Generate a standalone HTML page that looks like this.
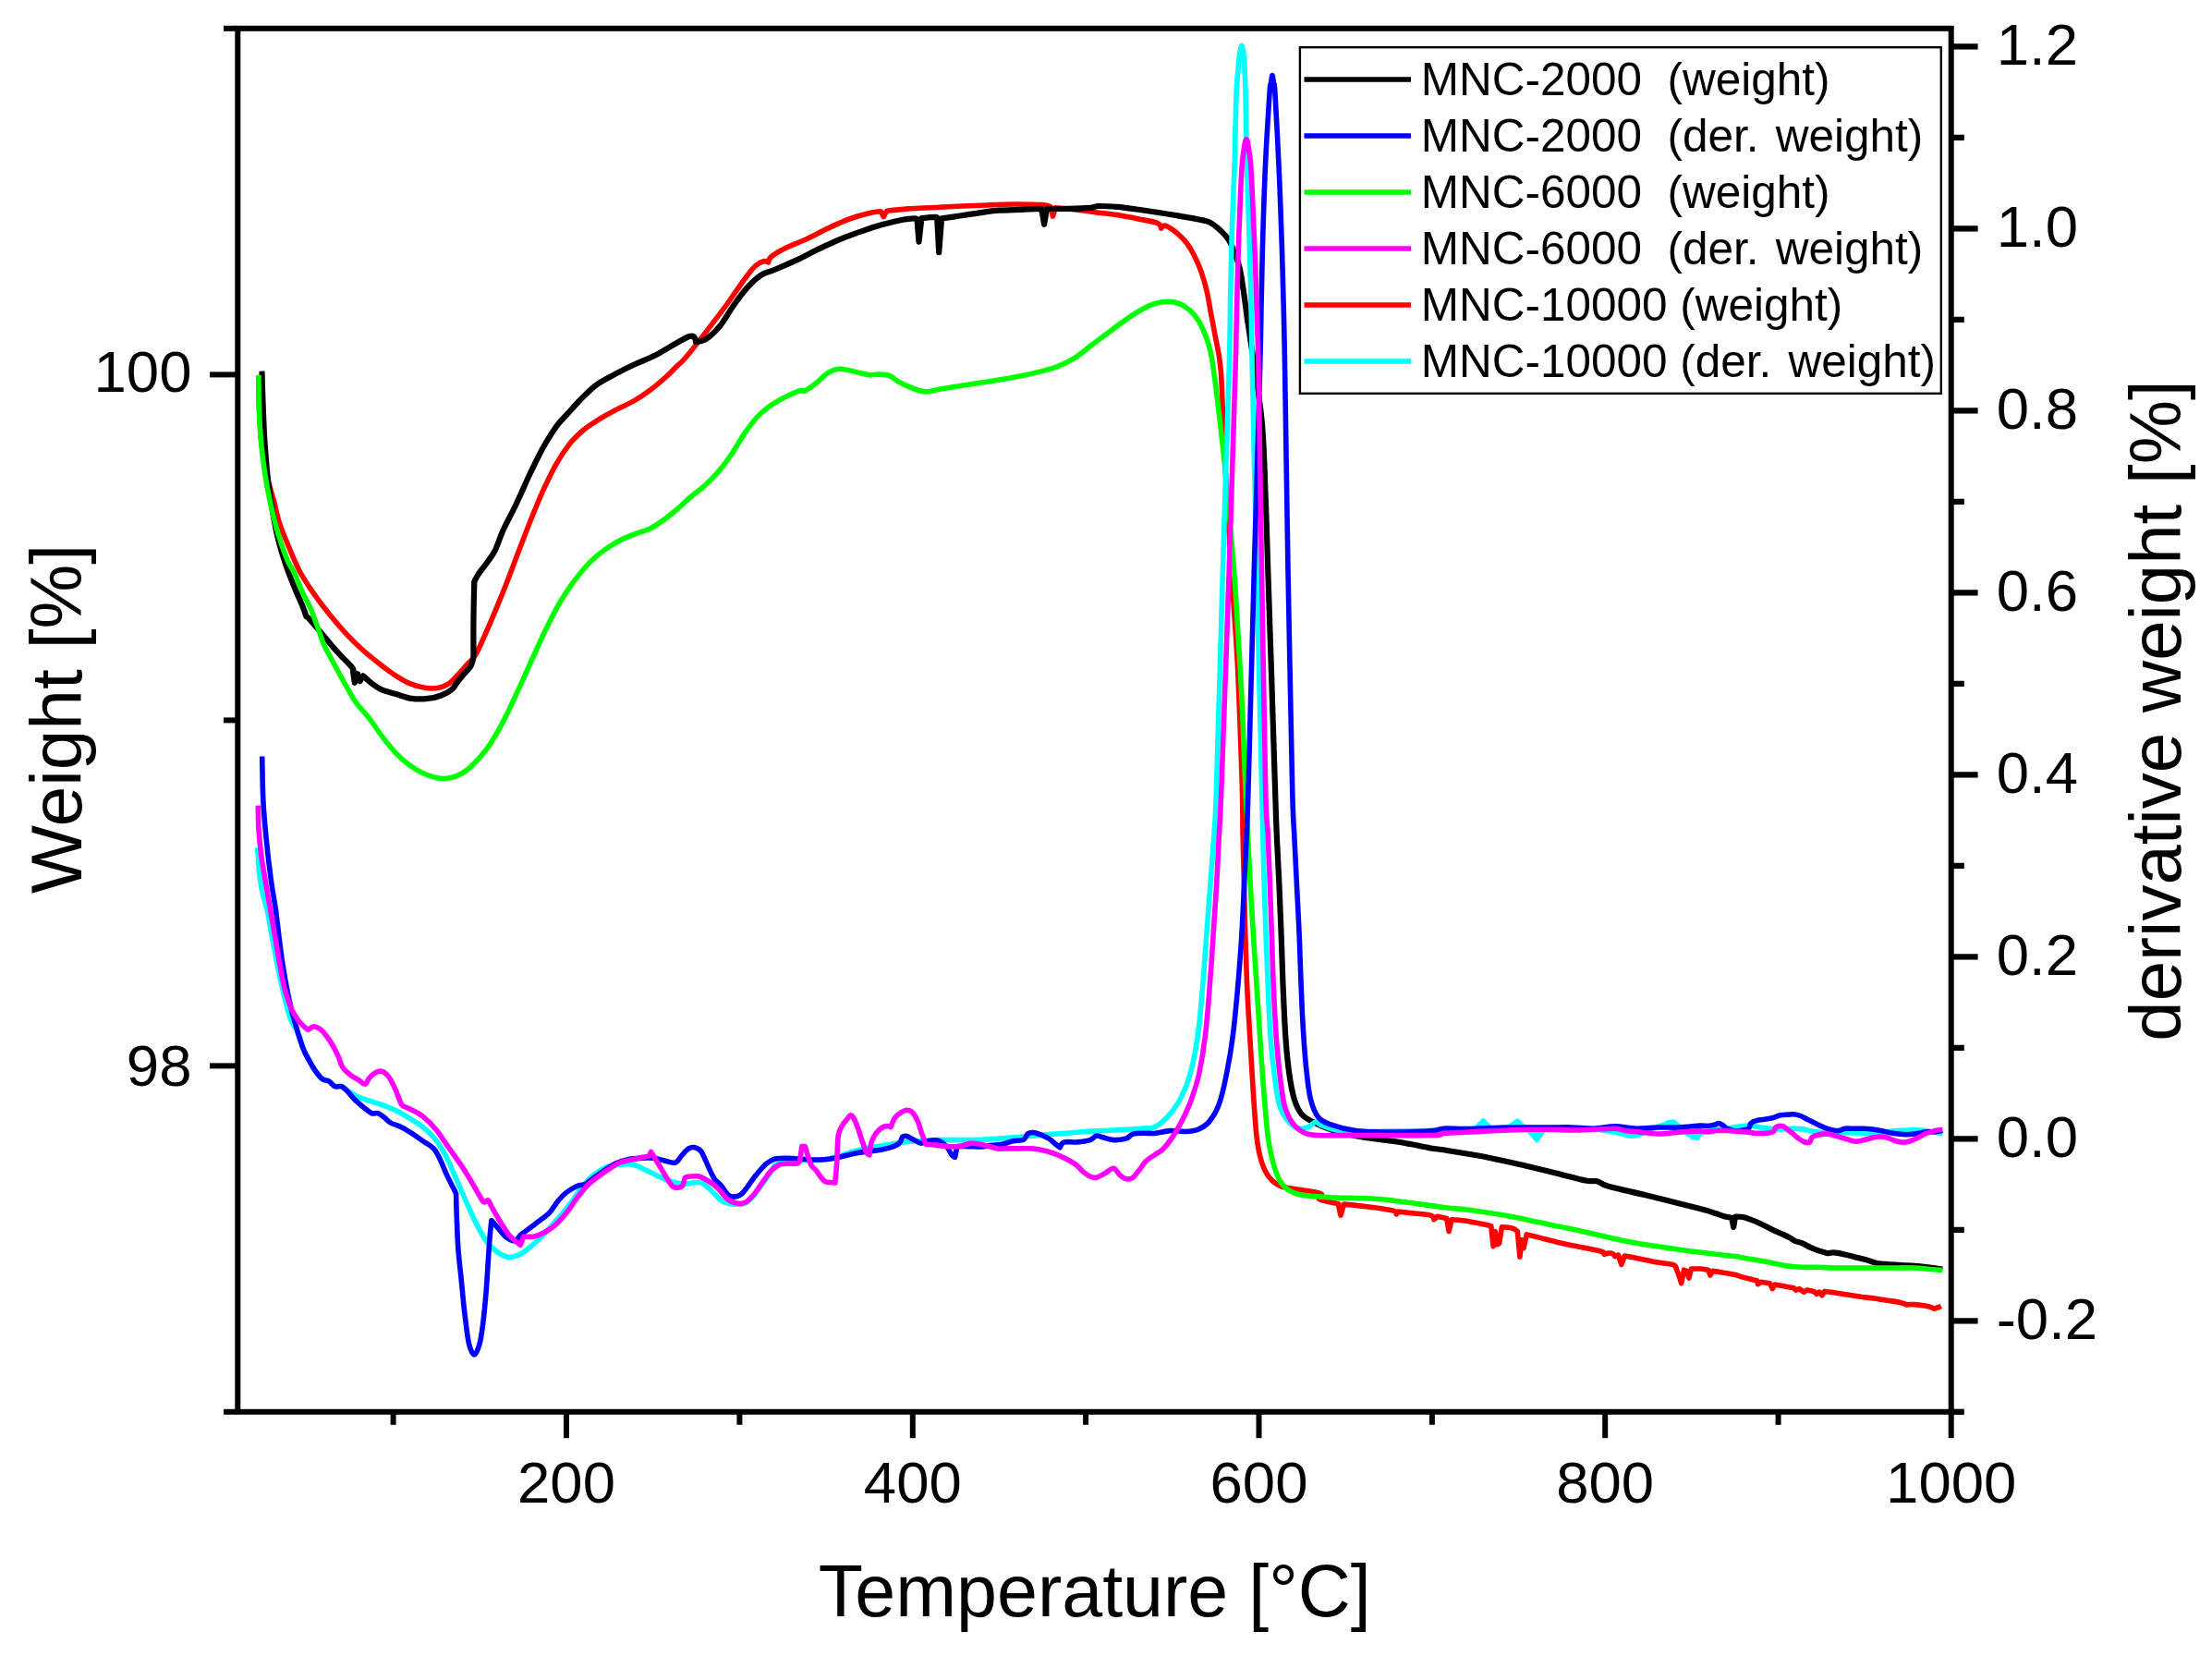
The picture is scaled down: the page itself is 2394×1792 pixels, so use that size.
<!DOCTYPE html>
<html><head><meta charset="utf-8"><title>TGA</title>
<style>html,body{margin:0;padding:0;background:#fff;}svg{display:block;}text{font-family:"Liberation Sans",Arial,sans-serif;fill:#000;white-space:pre;}</style></head><body>
<svg width="2394" height="1792" viewBox="0 0 2394 1792">
<rect width="2394" height="1792" fill="#fff"/>
<g fill="none" stroke-width="5.6" stroke-linejoin="round" stroke-linecap="butt">
<path stroke="#ff0000" d="M280.0 406.7C280.0 411.9 279.9 426.5 280.3 438.0C280.7 449.5 281.4 463.6 282.6 475.7C283.9 487.7 285.5 499.3 287.8 510.4C290.1 521.5 294.1 533.1 296.5 542.3C298.9 551.5 299.7 557.3 302.3 565.5C305.0 573.7 308.8 582.9 312.5 591.6C316.1 600.3 319.7 609.5 324.1 617.7C328.4 625.9 333.2 633.1 338.6 640.9C343.9 648.6 350.1 656.8 355.9 664.1C361.7 671.3 367.5 678.1 373.3 684.3C379.1 690.6 384.9 696.4 390.7 701.7C396.5 707.1 402.3 711.6 408.1 716.2C413.9 720.8 419.7 725.4 425.5 729.3C431.3 733.1 437.1 736.9 442.9 739.4C448.7 741.9 455.0 743.5 460.3 744.3C465.6 745.2 470.4 745.2 474.8 744.3C479.1 743.5 483.0 741.7 486.4 739.4C489.8 737.1 491.7 734.3 495.1 730.7C498.5 727.1 503.3 721.5 506.7 717.7C510.0 713.8 511.5 714.5 515.4 707.5C519.2 700.5 525.0 686.8 529.9 675.7C534.7 664.5 539.5 652.9 544.3 640.9C549.2 628.8 554.0 615.7 558.8 603.2C563.7 590.6 568.5 577.6 573.3 565.5C578.2 553.4 583.0 541.4 587.8 530.7C592.7 520.1 597.5 510.2 602.3 501.7C607.1 493.3 612.0 486.0 616.8 480.0C621.6 474.0 626.5 469.6 631.3 465.5C636.1 461.4 640.0 459.0 645.8 455.4C651.6 451.7 659.3 447.4 666.1 443.8C672.9 440.1 680.1 437.2 686.4 433.6C692.7 430.0 698.0 426.4 703.8 422.0C709.6 417.7 716.3 411.9 721.2 407.5C726.0 403.2 728.9 399.8 732.8 395.9C736.6 392.1 736.5 393.9 744.3 384.3C752.2 374.8 771.6 349.4 780.0 338.4C788.4 327.4 789.7 324.9 794.5 318.1C799.3 311.4 805.1 302.9 809.0 297.8C812.9 292.8 814.8 290.2 817.7 287.7C820.6 285.2 824.1 283.4 826.4 282.8C828.7 282.1 831.6 283.9 831.6 283.9C831.6 283.9 832.1 280.0 835.1 277.5C838.1 275.0 843.3 272.0 849.6 268.8C855.8 265.7 865.0 262.3 872.8 258.7C880.5 255.1 888.2 250.7 895.9 247.1C903.7 243.5 911.4 239.8 919.1 237.0C926.9 234.2 936.6 231.6 942.3 230.3C948.0 228.9 953.3 228.8 953.3 228.8L956.2 234.6L959.7 228.3C959.7 228.3 974.2 226.6 982.9 225.9C991.6 225.3 1002.2 225.0 1011.9 224.5C1021.5 224.0 1031.2 223.5 1040.9 223.0C1050.5 222.6 1060.2 222.2 1069.9 221.9C1079.5 221.5 1089.2 221.1 1098.8 221.0C1108.5 221.0 1121.4 221.1 1127.8 221.6C1134.2 222.1 1137.1 223.9 1137.1 223.9L1139.4 234.1L1142.3 224.8C1142.3 224.8 1155.4 226.0 1162.6 226.8C1169.9 227.6 1178.1 228.7 1185.8 229.7C1193.5 230.7 1201.3 231.4 1209.0 232.6C1216.7 233.8 1224.9 235.5 1232.2 237.0C1239.4 238.4 1248.4 239.6 1252.5 241.3C1256.6 243.0 1256.8 247.1 1256.8 247.1C1256.8 247.1 1258.5 243.5 1261.2 244.2C1263.8 244.9 1268.9 248.3 1272.8 251.4C1276.6 254.6 1281.0 258.7 1284.3 263.0C1287.7 267.4 1290.4 272.2 1293.0 277.5C1295.7 282.9 1298.1 288.6 1300.3 294.9C1302.5 301.2 1304.4 308.0 1306.1 315.2C1307.8 322.5 1309.0 330.7 1310.4 338.4C1311.9 346.1 1313.0 351.3 1314.8 361.6C1316.6 371.9 1319.5 380.0 1321.2 400.0C1322.9 420.0 1323.4 454.3 1324.7 481.5C1326.1 508.7 1327.7 535.9 1329.3 563.0C1331.0 590.2 1332.8 617.4 1334.5 644.6C1336.2 671.7 1338.0 691.8 1339.7 726.1C1341.3 760.3 1343.4 820.3 1344.3 850.0C1345.2 879.7 1344.7 886.2 1345.1 904.3C1345.5 922.5 1346.0 940.6 1346.5 958.7C1346.9 976.8 1347.3 994.9 1347.8 1013.0C1348.4 1031.2 1348.9 1049.3 1349.7 1067.4C1350.5 1085.5 1351.7 1103.6 1352.7 1121.7C1353.8 1139.9 1354.8 1158.0 1356.0 1176.1C1357.2 1194.2 1358.5 1216.8 1360.1 1230.4C1361.6 1244.0 1363.2 1250.4 1365.5 1257.6C1367.8 1264.9 1370.2 1269.6 1373.6 1273.9C1377.0 1278.2 1381.1 1281.3 1385.9 1283.4C1390.6 1285.6 1394.9 1285.3 1402.2 1286.7C1409.4 1288.0 1425.1 1289.7 1429.3 1291.6C1433.6 1293.4 1425.0 1295.9 1427.8 1297.7C1430.7 1299.5 1443.0 1301.5 1446.4 1302.3C1449.8 1303.2 1448.2 1302.8 1448.2 1302.8L1451.0 1315.1L1454.5 1303.0C1454.5 1303.0 1463.2 1303.9 1469.6 1304.6C1475.9 1305.4 1486.2 1306.5 1492.8 1307.4C1499.3 1308.4 1505.9 1309.4 1509.0 1310.4C1512.1 1311.5 1511.3 1313.9 1511.3 1313.9L1513.6 1311.1C1513.6 1311.1 1521.7 1312.1 1527.5 1312.8C1533.3 1313.4 1544.3 1313.9 1548.4 1315.1C1552.5 1316.2 1551.9 1319.7 1551.9 1319.7L1555.4 1316.2L1565.8 1318.6L1568.1 1332.5L1571.1 1319.7C1571.1 1319.7 1579.2 1319.9 1585.5 1320.9C1591.8 1321.8 1604.0 1324.5 1608.7 1325.5C1613.4 1326.5 1613.8 1326.7 1613.8 1326.7L1616.1 1348.7L1618.2 1332.5L1620.3 1346.8L1622.6 1345.4L1625.4 1327.8C1625.4 1327.8 1633.7 1328.2 1636.5 1329.0C1639.3 1329.8 1642.3 1332.5 1642.3 1332.5L1644.9 1360.3L1646.7 1341.7L1649.0 1350.6L1652.3 1335.9C1652.3 1335.9 1660.4 1337.9 1666.7 1339.4C1672.9 1341.0 1682.1 1343.5 1689.9 1345.2C1697.6 1347.0 1705.7 1348.3 1713.0 1349.9C1720.4 1351.4 1730.0 1353.3 1733.9 1354.5C1737.8 1355.7 1736.2 1357.3 1736.2 1357.3C1736.2 1357.3 1739.3 1356.2 1740.9 1356.1C1742.4 1356.0 1744.3 1356.2 1745.5 1356.8C1746.7 1357.4 1747.8 1359.6 1747.8 1359.6L1751.3 1358.0L1754.8 1368.4L1758.3 1359.1C1758.3 1359.1 1765.0 1360.3 1771.0 1361.4C1777.0 1362.6 1787.6 1364.9 1794.2 1366.1C1800.8 1367.2 1807.1 1367.4 1810.4 1368.4C1813.7 1369.4 1813.9 1371.9 1813.9 1371.9L1817.4 1381.2L1819.7 1388.6L1822.5 1374.2L1825.3 1375.4L1827.8 1383.0L1830.4 1373.0C1830.4 1373.0 1837.5 1372.9 1840.6 1373.0C1843.6 1373.2 1848.7 1374.2 1848.7 1374.2L1851.0 1380.0L1853.3 1375.4C1853.3 1375.4 1859.3 1376.2 1863.8 1377.0C1868.2 1377.8 1876.7 1379.3 1880.0 1380.0C1883.3 1380.7 1880.5 1380.6 1883.5 1381.4C1886.5 1382.3 1895.0 1384.3 1898.0 1385.1C1901.0 1385.8 1901.6 1385.8 1901.6 1385.8L1902.6 1389.7L1905.9 1387.2L1915.4 1388.7L1918.3 1394.5L1920.9 1390.1C1920.9 1390.1 1929.3 1391.7 1932.8 1392.3C1936.2 1392.9 1941.4 1393.8 1941.4 1393.8L1943.6 1396.2L1947.2 1394.5L1952.3 1398.1L1955.9 1395.9L1963.2 1397.4L1966.1 1400.3L1969.0 1398.1L1971.9 1401.7L1974.8 1397.4C1974.8 1397.4 1980.8 1398.2 1984.9 1398.8C1989.0 1399.4 1994.6 1400.3 1999.4 1401.0C2004.3 1401.7 2009.1 1402.5 2013.9 1403.2C2018.7 1403.9 2023.6 1404.4 2028.4 1405.1C2033.2 1405.7 2038.1 1406.5 2042.9 1407.2C2047.7 1408.0 2054.0 1408.9 2057.4 1409.7C2060.8 1410.5 2063.2 1411.9 2063.2 1411.9C2063.2 1411.9 2068.0 1411.3 2071.9 1411.6C2075.7 1411.9 2082.8 1412.9 2086.4 1413.6C2090.0 1414.4 2093.6 1416.2 2093.6 1416.2C2093.6 1416.2 2099.7 1414.1 2100.9 1413.6"/>
<path stroke="#000000" stroke-width="6.2" d="M283.5 401.7C283.6 405.4 283.7 412.6 284.1 423.5C284.4 434.3 285.2 454.9 285.8 467.0C286.4 479.0 287.0 486.3 287.8 495.9C288.6 505.6 289.5 515.3 290.7 524.9C291.9 534.6 293.4 544.3 295.1 553.9C296.8 563.6 298.5 573.2 300.9 582.9C303.3 592.6 306.4 602.7 309.6 611.9C312.7 621.1 316.6 630.2 319.7 638.0C322.9 645.7 326.5 653.4 328.4 658.3C330.3 663.1 331.3 667.0 331.3 667.0C331.3 667.0 331.7 666.5 334.8 669.9C337.8 673.2 344.6 681.4 349.6 687.2C354.5 693.0 359.1 698.8 364.3 704.6C369.6 710.4 377.9 718.4 380.9 722.0C383.8 725.7 382.0 726.4 382.0 726.4L383.8 738.8L387.2 729.3L389.6 737.1L393.0 731.3C393.0 731.3 398.8 736.9 402.3 739.4C405.8 742.0 409.6 744.7 413.9 746.7C418.3 748.6 423.1 749.5 428.4 751.0C433.7 752.6 440.0 755.1 445.8 755.9C451.6 756.8 457.9 756.5 463.2 755.9C468.5 755.4 473.3 754.2 477.7 752.5C482.0 750.8 486.4 748.2 489.3 745.8C492.2 743.4 493.1 740.5 495.1 738.0C497.0 735.5 498.5 733.6 500.9 730.7C503.3 727.8 507.6 724.0 509.6 720.6C511.5 717.2 512.5 710.4 512.5 710.4C512.5 710.4 512.3 683.4 512.5 669.9C512.6 656.3 513.3 629.3 513.3 629.3C513.3 629.3 516.0 624.0 518.3 620.6C520.5 617.2 524.1 613.1 527.0 609.0C529.9 604.9 532.8 601.7 535.7 595.9C538.6 590.1 540.5 582.7 544.3 574.2C548.2 565.7 554.0 555.4 558.8 545.2C563.7 535.1 568.5 523.5 573.3 513.3C578.2 503.2 583.0 493.0 587.8 484.3C592.7 475.7 598.0 467.2 602.3 461.2C606.7 455.1 609.6 452.9 613.9 448.1C618.3 443.3 623.1 437.5 628.4 432.2C633.7 426.9 639.5 420.8 645.8 416.2C652.1 411.6 659.3 408.3 666.1 404.6C672.9 401.0 679.1 397.9 686.4 394.5C693.6 391.1 699.6 389.4 709.6 384.3C719.5 379.3 738.8 366.4 746.0 364.0C753.2 361.6 753.0 370.0 753.0 370.0C753.0 370.0 759.7 369.8 764.0 367.0C768.3 364.2 773.9 359.2 779.0 353.0C784.1 346.8 789.5 336.7 794.5 329.7C799.5 322.7 804.2 316.2 809.0 310.9C813.8 305.6 818.6 301.0 823.5 297.8C828.3 294.7 831.7 294.7 838.0 292.0C844.3 289.4 853.4 285.5 861.2 281.9C868.9 278.3 876.6 274.0 884.3 270.3C892.1 266.6 899.8 262.8 907.5 259.6C915.3 256.3 923.0 253.6 930.7 250.9C938.5 248.2 946.2 245.5 953.9 243.3C961.6 241.2 971.3 239.0 977.1 237.8C982.9 236.7 986.1 236.5 988.7 236.4C991.3 236.2 992.5 237.0 992.5 237.0L994.5 261.6L997.4 236.1C997.4 236.1 1009.1 235.0 1011.9 234.9C1014.7 234.8 1014.2 235.5 1014.2 235.5L1016.2 273.2L1019.1 236.4C1019.1 236.4 1028.6 235.0 1035.1 234.1C1041.6 233.1 1050.5 231.6 1058.3 230.6C1066.0 229.5 1073.7 228.3 1081.4 227.7C1089.2 227.1 1097.0 227.1 1104.6 226.8C1112.3 226.5 1127.2 225.9 1127.2 225.9L1130.1 242.8L1133.0 225.9C1133.0 225.9 1149.0 226.1 1156.8 225.9C1164.6 225.7 1174.7 225.3 1180.0 224.8C1185.3 224.3 1183.9 223.2 1188.7 223.0C1193.5 222.9 1201.7 223.3 1209.0 223.9C1216.2 224.5 1224.4 225.7 1232.2 226.8C1239.9 227.9 1247.6 229.1 1255.4 230.3C1263.1 231.5 1270.8 232.7 1278.6 234.1C1286.3 235.4 1296.7 237.3 1301.7 238.4C1306.8 239.5 1306.3 239.1 1309.1 240.5C1311.8 241.9 1315.1 244.3 1318.1 246.8C1321.1 249.4 1324.9 253.2 1327.2 255.9C1329.5 258.6 1330.2 260.1 1331.7 263.1C1333.2 266.2 1334.6 269.5 1336.3 274.0C1337.9 278.5 1340.0 283.1 1341.7 290.3C1343.4 297.6 1344.9 308.4 1346.2 317.5C1347.6 326.6 1348.8 337.1 1349.8 344.7C1350.9 352.3 1350.0 344.5 1352.6 362.8C1355.2 381.1 1362.7 425.5 1365.5 454.3C1368.3 483.2 1368.4 508.7 1369.6 535.9C1370.7 563.0 1371.2 583.4 1372.3 617.4C1373.4 651.4 1375.1 700.9 1376.4 739.7C1377.6 778.4 1379.0 822.6 1379.9 850.0C1380.8 877.4 1381.0 886.2 1381.8 904.3C1382.6 922.5 1383.7 940.6 1384.5 958.7C1385.3 976.8 1386.0 994.9 1386.7 1013.0C1387.4 1031.2 1387.8 1049.3 1388.6 1067.4C1389.4 1085.5 1390.2 1105.9 1391.3 1121.7C1392.4 1137.6 1393.8 1151.2 1395.4 1162.5C1397.0 1173.8 1398.6 1182.4 1400.8 1189.7C1403.1 1196.9 1405.1 1201.7 1409.0 1206.0C1412.8 1210.3 1418.7 1212.8 1423.9 1215.5C1429.1 1218.2 1433.0 1220.0 1440.2 1222.3C1447.5 1224.5 1458.3 1227.3 1467.4 1229.1C1476.4 1230.9 1485.5 1231.8 1494.6 1233.2C1503.6 1234.5 1512.5 1235.6 1521.7 1237.2C1531.0 1238.8 1543.6 1241.5 1550.0 1242.7C1556.4 1243.8 1551.7 1242.7 1560.0 1244.0C1568.3 1245.3 1586.7 1248.0 1600.0 1250.5C1613.3 1253.0 1626.7 1256.0 1640.0 1259.0C1653.3 1262.0 1667.3 1265.4 1680.0 1268.5C1692.7 1271.6 1707.9 1275.9 1716.0 1277.5C1724.1 1279.1 1724.5 1277.3 1728.5 1278.3C1732.5 1279.3 1731.4 1281.0 1740.0 1283.5C1748.6 1286.0 1766.7 1289.8 1780.0 1293.0C1793.3 1296.2 1810.0 1300.5 1820.0 1303.0C1830.0 1305.5 1835.2 1306.8 1840.0 1308.0C1844.8 1309.2 1845.8 1309.5 1848.7 1310.4C1851.6 1311.3 1854.5 1312.4 1857.4 1313.3C1860.3 1314.3 1863.3 1315.5 1866.1 1316.2C1868.9 1317.0 1874.1 1317.7 1874.1 1317.7L1876.2 1327.8L1878.0 1316.5C1878.0 1316.5 1883.5 1316.4 1886.4 1317.0C1889.2 1317.5 1892.2 1318.8 1895.1 1319.9C1898.0 1320.9 1900.9 1322.1 1903.8 1323.5C1906.7 1324.8 1909.6 1326.4 1912.5 1327.8C1915.4 1329.3 1918.3 1330.8 1921.2 1332.2C1924.1 1333.5 1927.2 1334.6 1929.9 1335.8C1932.5 1337.0 1934.9 1338.2 1937.1 1339.4C1939.3 1340.6 1940.7 1342.1 1942.9 1343.0C1945.1 1344.0 1947.5 1344.1 1950.1 1345.2C1952.8 1346.3 1955.9 1348.2 1958.8 1349.6C1961.7 1350.9 1964.9 1352.2 1967.5 1353.2C1970.2 1354.2 1972.9 1354.9 1974.8 1355.4C1976.7 1355.8 1977.4 1356.1 1979.1 1356.1C1980.8 1356.1 1982.0 1355.1 1984.9 1355.4C1987.8 1355.6 1992.7 1356.7 1996.5 1357.5C2000.4 1358.4 2004.3 1359.5 2008.1 1360.4C2012.0 1361.4 2015.8 1362.2 2019.7 1363.3C2023.6 1364.4 2027.4 1366.2 2031.3 1367.0C2035.2 1367.8 2038.6 1367.8 2042.9 1368.1C2047.2 1368.5 2052.6 1368.8 2057.4 1369.1C2062.2 1369.4 2067.1 1369.5 2071.9 1369.9C2076.7 1370.2 2081.3 1370.7 2086.4 1371.3C2091.4 1371.9 2099.7 1373.1 2102.3 1373.5"/>
<path stroke="#00ff00" d="M280.0 406.1C280.0 411.4 279.9 426.4 280.3 438.0C280.7 449.6 281.3 463.6 282.3 475.7C283.3 487.7 284.7 499.3 286.4 510.4C288.0 521.5 289.8 531.2 292.2 542.3C294.6 553.4 297.7 566.5 300.9 577.1C304.0 587.7 308.1 598.9 311.0 606.1C314.0 613.2 315.9 614.3 318.6 620.0C321.2 625.7 324.1 633.8 327.0 640.0C329.8 646.2 332.9 651.1 335.7 657.4C338.4 663.7 341.0 671.3 343.5 678.0C345.9 684.6 347.9 691.5 350.4 697.4C352.9 703.2 354.8 706.0 358.6 713.0C362.3 720.0 368.6 731.6 373.0 739.4C377.4 747.2 380.5 753.4 384.9 759.7C389.3 766.0 394.6 770.8 399.4 777.1C404.3 783.4 409.1 791.1 413.9 797.4C418.7 803.7 423.6 809.7 428.4 814.8C433.2 819.9 438.1 824.2 442.9 827.8C447.7 831.4 452.6 834.3 457.4 836.5C462.2 838.8 467.5 840.5 471.9 841.4C476.2 842.4 479.6 842.7 483.5 842.3C487.3 842.0 491.2 841.1 495.1 839.4C498.9 837.7 502.8 835.3 506.7 832.2C510.5 829.0 514.4 824.9 518.3 820.6C522.1 816.2 525.5 812.6 529.9 806.1C534.2 799.6 539.5 790.6 544.3 781.4C549.2 772.3 554.0 761.4 558.8 751.0C563.7 740.6 568.5 729.8 573.3 719.1C578.2 708.5 583.0 697.4 587.8 687.2C592.7 677.1 597.5 667.0 602.3 658.3C607.1 649.6 612.0 642.1 616.8 635.1C621.6 628.1 626.5 621.8 631.3 616.2C636.1 610.7 641.0 605.9 645.8 601.7C650.6 597.5 655.5 594.2 660.3 591.0C665.1 587.9 670.0 585.2 674.8 582.9C679.6 580.6 684.4 578.9 689.3 577.1C694.1 575.3 698.9 574.3 703.8 571.9C708.6 569.5 713.4 566.1 718.3 562.6C723.1 559.1 727.9 555.1 732.8 551.0C737.6 546.9 742.4 542.1 747.2 538.0C752.1 533.9 756.9 530.7 761.7 526.4C766.6 522.0 771.4 517.4 776.2 511.9C781.1 506.3 785.9 500.0 790.7 493.0C795.6 486.0 800.4 476.9 805.2 469.9C810.0 462.9 815.4 455.8 819.7 451.0C824.1 446.2 827.9 443.5 831.3 440.9C834.7 438.2 836.5 437.2 840.0 435.1C843.5 433.0 848.0 430.4 852.5 428.3C857.0 426.2 863.8 423.3 867.0 422.5C870.1 421.6 868.4 424.5 871.3 423.0C874.2 421.6 880.2 417.0 884.3 413.8C888.5 410.5 892.1 406.0 895.9 403.6C899.8 401.2 903.7 399.8 907.5 399.3C911.4 398.8 915.3 400.0 919.1 400.7C923.0 401.4 927.1 402.8 930.7 403.6C934.3 404.4 937.5 405.4 940.9 405.7C944.3 405.9 947.4 404.9 951.0 405.1C954.6 405.2 959.2 405.3 962.6 406.5C966.0 407.7 967.9 410.4 971.3 412.3C974.7 414.3 979.0 416.4 982.9 418.1C986.8 419.8 991.1 421.5 994.5 422.5C997.9 423.4 999.3 424.2 1003.2 423.9C1007.1 423.7 1011.4 422.1 1017.7 421.0C1024.0 419.9 1032.2 418.6 1040.9 417.2C1049.6 415.9 1060.2 414.4 1069.9 412.9C1079.5 411.4 1089.2 409.9 1098.8 408.0C1108.5 406.1 1120.1 403.5 1127.8 401.6C1135.6 399.7 1139.4 398.7 1145.2 396.4C1151.0 394.1 1156.8 391.3 1162.6 387.7C1168.4 384.1 1174.2 379.0 1180.0 374.6C1185.8 370.3 1191.6 365.9 1197.4 361.6C1203.2 357.2 1209.0 352.7 1214.8 348.6C1220.6 344.4 1226.9 340.1 1232.2 337.0C1237.5 333.8 1242.3 331.4 1246.7 329.7C1251.0 328.0 1254.4 327.3 1258.3 326.8C1262.1 326.3 1266.0 326.1 1269.9 326.8C1273.7 327.5 1277.6 328.7 1281.4 331.2C1285.3 333.6 1289.7 337.2 1293.0 341.3C1296.4 345.4 1299.1 350.0 1301.7 355.8C1304.4 361.6 1307.1 368.8 1309.0 376.1C1310.9 383.3 1311.5 386.2 1313.3 399.3C1315.2 412.3 1318.0 436.1 1320.1 454.3C1322.2 472.6 1324.3 490.6 1326.1 508.7C1327.9 526.8 1329.4 544.9 1331.0 563.0C1332.6 581.2 1334.2 599.3 1335.6 617.4C1337.0 635.5 1338.0 653.6 1339.1 671.7C1340.3 689.9 1341.4 708.0 1342.4 726.1C1343.4 744.2 1344.2 759.8 1345.1 780.4C1346.0 801.1 1346.9 829.3 1347.8 850.0C1348.7 870.7 1349.6 886.2 1350.5 904.3C1351.4 922.5 1352.3 940.6 1353.3 958.7C1354.3 976.8 1355.4 994.9 1356.5 1013.0C1357.7 1031.2 1358.9 1049.3 1360.1 1067.4C1361.2 1085.5 1362.4 1103.6 1363.6 1121.7C1364.8 1139.9 1365.9 1158.0 1367.4 1176.1C1368.8 1194.2 1370.6 1216.8 1372.3 1230.4C1374.0 1244.0 1375.7 1249.9 1377.7 1257.6C1379.8 1265.3 1381.8 1271.6 1384.5 1276.6C1387.2 1281.6 1390.2 1284.8 1394.0 1287.5C1397.9 1290.2 1399.9 1291.6 1407.6 1292.9C1415.3 1294.3 1425.7 1294.8 1440.2 1295.7C1454.7 1296.5 1474.2 1296.0 1494.6 1297.8C1514.9 1299.6 1547.2 1304.7 1562.3 1306.5C1577.5 1308.3 1577.8 1307.9 1585.5 1308.8C1593.2 1309.7 1601.0 1310.9 1608.7 1312.1C1616.4 1313.2 1624.2 1314.4 1631.9 1315.8C1639.6 1317.2 1647.3 1318.8 1655.1 1320.4C1662.8 1322.0 1670.5 1323.9 1678.3 1325.5C1686.0 1327.1 1693.7 1328.5 1701.4 1330.1C1709.2 1331.8 1716.9 1333.5 1724.6 1335.2C1732.4 1337.0 1740.1 1338.9 1747.8 1340.6C1755.6 1342.2 1763.3 1343.9 1771.0 1345.2C1778.7 1346.6 1786.5 1347.5 1794.2 1348.7C1801.9 1349.9 1809.7 1351.1 1817.4 1352.2C1825.1 1353.3 1832.9 1354.2 1840.6 1355.2C1848.3 1356.2 1857.2 1357.2 1863.8 1358.0C1870.3 1358.7 1876.7 1359.2 1880.0 1359.6C1883.3 1360.0 1880.5 1359.9 1883.5 1360.4C1886.5 1361.0 1893.1 1362.1 1898.0 1362.9C1902.8 1363.7 1908.1 1364.6 1912.5 1365.5C1916.8 1366.4 1920.2 1367.3 1924.1 1368.1C1927.9 1368.9 1931.3 1369.6 1935.7 1370.1C1940.0 1370.7 1944.8 1371.1 1950.1 1371.3C1955.5 1371.5 1961.7 1371.2 1967.5 1371.3C1973.3 1371.4 1977.2 1371.9 1984.9 1372.0C1992.7 1372.1 2004.3 1372.0 2013.9 1372.0C2023.6 1372.0 2033.2 1372.0 2042.9 1372.0C2052.6 1372.0 2064.2 1371.8 2071.9 1372.0C2079.6 1372.3 2084.2 1373.1 2089.3 1373.5C2094.3 1373.9 2100.1 1374.3 2102.3 1374.5"/>
<path stroke="#00ffff" fill="#00ffff" stroke-width="4" d="M1595.9 1221.2 L1605.2 1211.9 L1614.5 1221.2 Z"/>
<path stroke="#00ffff" fill="#00ffff" stroke-width="4" d="M1629.6 1221.2 L1642.3 1212.3 L1651.6 1221.2 Z"/>
<path stroke="#00ffff" fill="#00ffff" stroke-width="4" d="M1653.9 1223.5 L1663.2 1234.4 L1671.3 1223.5 Z"/>
<path stroke="#00ffff" fill="#00ffff" stroke-width="4" d="M1797.7 1220.0 L1804.6 1214.2 L1811.6 1213.3 L1818.6 1220.0 Z"/>
<path stroke="#00ffff" fill="#00ffff" stroke-width="4" d="M1825.5 1224.6 L1831.3 1231.1 L1837.1 1232.1 L1841.7 1224.6 Z"/>
<path stroke="#00ffff" d="M278.7 917.4C279.0 921.7 279.6 935.5 280.4 943.5C281.3 951.4 282.4 958.0 283.9 965.2C285.4 972.5 287.7 978.3 289.6 987.0C291.4 995.7 293.0 1006.9 295.0 1017.4C297.0 1027.9 299.2 1039.9 301.3 1050.0C303.4 1060.1 305.4 1069.6 307.6 1078.3C309.8 1087.0 311.6 1095.1 314.3 1102.2C317.1 1109.2 321.7 1115.4 323.9 1120.7C326.2 1125.9 326.0 1129.4 327.8 1133.9C329.6 1138.4 332.5 1143.6 334.8 1147.8C337.1 1152.1 339.4 1156.1 341.7 1159.4C344.1 1162.7 346.4 1165.8 348.7 1167.5C351.0 1169.3 353.3 1168.6 355.7 1169.9C358.0 1171.1 360.3 1174.2 362.6 1175.2C364.9 1176.2 367.2 1174.8 369.6 1175.7C371.9 1176.5 373.4 1178.4 376.5 1180.3C379.6 1182.2 383.9 1185.3 388.1 1187.2C392.4 1189.2 397.4 1190.3 402.0 1191.9C406.7 1193.4 411.3 1194.8 415.9 1196.5C420.6 1198.3 425.2 1200.0 429.9 1202.3C434.5 1204.6 439.1 1207.5 443.8 1210.4C448.4 1213.3 453.0 1215.8 457.7 1219.7C462.3 1223.6 467.3 1228.2 471.6 1233.6C475.8 1239.0 479.7 1245.6 483.2 1252.2C486.7 1258.7 489.4 1266.1 492.5 1273.0C495.6 1280.0 498.6 1287.0 501.7 1293.9C504.8 1300.9 507.9 1308.2 511.0 1314.8C514.1 1321.4 517.2 1327.9 520.3 1333.3C523.4 1338.7 526.5 1343.6 529.6 1347.2C532.7 1350.9 535.7 1353.2 538.8 1355.4C541.9 1357.5 545.4 1359.2 548.1 1360.0C550.8 1360.8 552.4 1360.6 555.1 1360.0C557.8 1359.4 561.3 1358.3 564.3 1356.5C567.4 1354.8 570.1 1352.5 573.6 1349.6C577.1 1346.7 581.4 1343.0 585.2 1339.1C589.1 1335.3 592.9 1330.6 596.8 1326.4C600.7 1322.1 604.5 1318.3 608.4 1313.6C612.3 1309.0 616.1 1303.8 620.0 1298.6C623.9 1293.3 627.7 1287.0 631.6 1282.3C635.5 1277.7 638.9 1274.0 643.2 1270.7C647.4 1267.4 652.5 1264.3 657.1 1262.6C661.7 1260.9 666.4 1260.7 671.0 1260.3C675.7 1259.9 680.3 1259.3 684.9 1260.3C689.6 1261.3 694.2 1264.0 698.8 1266.1C703.5 1268.2 708.1 1270.9 712.8 1273.0C717.4 1275.2 722.0 1277.5 726.7 1278.8C731.3 1280.2 736.7 1281.0 740.6 1281.2C744.4 1281.4 746.8 1280.2 749.9 1280.0C752.9 1279.8 756.0 1278.8 759.1 1280.0C762.2 1281.2 764.9 1283.9 768.4 1287.0C771.9 1290.0 776.8 1296.0 780.0 1298.6C783.2 1301.1 785.0 1301.3 787.8 1302.0C790.7 1302.8 794.0 1303.2 797.1 1303.2C800.2 1303.2 803.3 1303.6 806.4 1302.0C809.5 1300.5 812.6 1297.4 815.7 1293.9C818.7 1290.4 821.8 1285.4 824.9 1281.2C828.0 1276.9 831.9 1271.7 834.2 1268.4C836.5 1265.1 836.5 1263.4 838.8 1261.4C841.2 1259.5 844.3 1257.8 848.1 1256.8C852.0 1255.8 856.6 1255.8 862.0 1255.7C867.4 1255.5 875.2 1255.8 880.6 1255.7C886.0 1255.5 889.9 1255.3 894.5 1254.5C899.1 1253.7 903.8 1252.4 908.4 1251.0C913.0 1249.7 917.7 1247.7 922.3 1246.4C927.0 1245.0 931.6 1243.9 936.2 1242.9C940.9 1241.9 945.5 1241.4 950.1 1240.6C954.8 1239.8 959.4 1239.0 964.1 1238.3C968.7 1237.5 973.3 1236.5 978.0 1235.9C982.6 1235.4 985.7 1235.2 991.9 1234.8C998.1 1234.4 1007.3 1233.8 1015.1 1233.6C1022.8 1233.4 1030.5 1233.7 1038.3 1233.6C1046.0 1233.5 1053.7 1233.5 1061.4 1233.2C1069.2 1232.9 1076.9 1232.3 1084.6 1231.8C1092.4 1231.3 1100.1 1230.8 1107.8 1230.1C1115.6 1229.5 1123.3 1228.5 1131.0 1227.8C1138.7 1227.2 1146.5 1226.8 1154.2 1226.2C1161.9 1225.6 1169.7 1224.9 1177.4 1224.3C1185.1 1223.8 1192.9 1223.6 1200.6 1223.2C1208.3 1222.8 1217.2 1222.4 1223.8 1222.0C1230.3 1221.6 1235.6 1221.3 1240.0 1220.9C1244.4 1220.5 1246.1 1221.6 1250.0 1219.6C1253.9 1217.5 1259.1 1213.7 1263.6 1208.7C1268.1 1203.7 1273.1 1197.4 1277.2 1189.7C1281.2 1182.0 1284.9 1173.8 1288.0 1162.5C1291.2 1151.2 1293.9 1137.6 1296.2 1121.7C1298.5 1105.9 1300.0 1085.5 1301.6 1067.4C1303.2 1049.3 1304.3 1031.2 1305.7 1013.0C1307.1 994.9 1308.4 976.8 1309.8 958.7C1311.1 940.6 1312.7 922.5 1313.9 904.3C1315.0 886.2 1315.0 897.8 1316.6 850.0C1318.2 802.2 1321.1 692.4 1323.4 617.4C1325.6 542.4 1328.8 450.0 1330.2 400.0C1331.6 350.0 1331.2 343.3 1331.7 317.5C1332.3 291.7 1332.8 269.2 1333.5 245.0C1334.3 220.8 1335.5 196.7 1336.3 172.5C1337.0 148.3 1337.3 117.8 1338.1 100.0C1338.8 82.2 1340.2 73.3 1340.9 66.0C1341.6 58.7 1341.5 58.8 1342.0 56.0C1342.5 53.2 1343.2 49.5 1343.8 49.5C1344.3 49.5 1345.0 53.2 1345.5 56.0C1346.0 58.8 1346.2 58.7 1346.6 66.0C1347.0 73.3 1347.6 82.2 1348.0 100.0C1348.5 117.8 1348.7 148.3 1349.3 172.5C1349.9 196.7 1350.9 220.8 1351.7 245.0C1352.4 269.2 1353.2 291.7 1353.8 317.5C1354.4 343.4 1354.2 350.2 1355.3 400.2C1356.3 450.1 1358.4 542.4 1360.1 617.4C1361.8 692.4 1364.4 802.2 1365.5 850.0C1366.6 897.8 1366.4 886.2 1366.8 904.3C1367.3 922.5 1367.7 940.6 1368.2 958.7C1368.8 976.8 1369.4 994.9 1370.1 1013.0C1370.8 1031.2 1371.5 1049.3 1372.3 1067.4C1373.1 1085.5 1373.9 1105.9 1375.0 1121.7C1376.1 1137.6 1377.5 1150.3 1379.1 1162.5C1380.7 1174.7 1382.2 1187.0 1384.5 1195.1C1386.8 1203.3 1389.3 1207.1 1392.7 1211.4C1396.1 1215.7 1401.0 1219.6 1404.9 1220.9C1408.7 1222.3 1412.6 1220.7 1415.8 1219.6C1418.9 1218.4 1421.5 1214.4 1423.9 1214.1C1426.3 1213.8 1426.4 1216.2 1430.1 1217.7C1433.9 1219.2 1439.8 1221.9 1446.4 1223.0C1452.9 1224.2 1458.0 1224.5 1469.6 1224.6C1481.2 1224.8 1500.5 1224.2 1515.9 1223.9C1531.4 1223.7 1550.7 1223.4 1562.3 1223.0C1573.9 1222.6 1577.8 1221.9 1585.5 1221.6C1593.2 1221.3 1601.0 1221.2 1608.7 1221.2C1616.4 1221.1 1624.2 1221.0 1631.9 1221.2C1639.6 1221.4 1647.3 1222.2 1655.1 1222.3C1662.8 1222.4 1670.5 1221.8 1678.3 1221.6C1686.0 1221.4 1693.7 1221.2 1701.4 1221.2C1709.2 1221.2 1716.9 1220.9 1724.6 1221.6C1732.4 1222.3 1740.9 1224.1 1747.8 1225.3C1754.8 1226.6 1761.7 1229.0 1766.4 1229.3C1771.0 1229.5 1771.8 1228.3 1775.7 1227.0C1779.5 1225.6 1785.7 1222.7 1789.6 1221.2C1793.4 1219.6 1795.4 1218.5 1798.8 1217.7C1802.3 1216.9 1807.3 1216.3 1810.4 1216.5C1813.5 1216.7 1814.7 1217.1 1817.4 1218.8C1820.1 1220.6 1823.6 1225.4 1826.7 1227.0C1829.8 1228.5 1832.3 1228.7 1835.9 1228.1C1839.6 1227.5 1845.6 1224.4 1848.7 1223.5C1851.8 1222.6 1851.1 1223.1 1854.5 1222.8C1857.9 1222.4 1864.2 1222.0 1869.0 1221.3C1873.8 1220.7 1879.4 1219.4 1883.5 1218.8C1887.6 1218.3 1890.0 1217.8 1893.6 1218.0C1897.2 1218.1 1900.6 1219.2 1905.2 1219.9C1909.8 1220.5 1915.6 1221.8 1921.2 1222.0C1926.7 1222.3 1933.7 1221.4 1938.6 1221.3C1943.4 1221.2 1946.3 1221.1 1950.1 1221.6C1954.0 1222.1 1957.1 1223.5 1961.7 1224.2C1966.3 1224.9 1971.4 1225.4 1977.7 1225.7C1984.0 1225.9 1991.0 1225.6 1999.4 1225.7C2007.9 1225.7 2020.7 1226.3 2028.4 1226.1C2036.1 1225.8 2041.0 1224.7 2045.8 1224.2C2050.6 1223.7 2051.8 1223.4 2057.4 1223.2C2062.9 1223.0 2073.1 1222.8 2079.1 1223.0C2085.2 1223.3 2089.8 1224.3 2093.6 1224.9C2097.5 1225.6 2100.9 1226.7 2102.3 1227.1"/>
<path stroke="#0000ff" d="M283.7 818.5C283.9 826.3 284.0 850.2 284.8 865.2C285.5 880.3 286.8 894.2 288.3 908.7C289.7 923.2 291.6 939.5 293.3 952.2C295.0 964.9 297.0 973.9 298.5 984.8C300.0 995.7 301.1 1007.2 302.4 1017.4C303.7 1027.5 304.8 1036.2 306.3 1045.7C307.8 1055.1 309.5 1064.9 311.3 1073.9C313.2 1083.0 314.6 1090.0 317.4 1100.0C320.1 1110.0 324.9 1125.9 327.8 1133.9C330.7 1141.9 332.5 1143.6 334.8 1147.8C337.1 1152.1 339.4 1156.1 341.7 1159.4C344.1 1162.7 346.4 1165.8 348.7 1167.5C351.0 1169.3 353.3 1168.5 355.7 1169.9C358.0 1171.2 360.3 1174.7 362.6 1175.7C364.9 1176.6 367.2 1174.7 369.6 1175.7C371.9 1176.6 374.2 1179.1 376.5 1181.4C378.8 1183.8 380.8 1186.9 383.5 1189.6C386.2 1192.3 389.7 1195.2 392.8 1197.7C395.8 1200.2 399.3 1203.5 402.0 1204.6C404.7 1205.8 406.7 1203.9 409.0 1204.6C411.3 1205.4 413.6 1207.5 415.9 1209.3C418.3 1211.0 419.8 1213.3 422.9 1215.1C426.0 1216.8 430.6 1217.8 434.5 1219.7C438.4 1221.6 442.2 1224.2 446.1 1226.7C450.0 1229.2 453.8 1232.1 457.7 1234.8C461.5 1237.5 466.2 1239.6 469.3 1242.9C472.4 1246.2 473.9 1249.9 476.2 1254.5C478.6 1259.1 480.9 1265.7 483.2 1270.7C485.5 1275.7 488.4 1281.2 490.1 1284.6C491.9 1288.1 493.6 1291.6 493.6 1291.6C493.6 1291.6 493.9 1307.1 494.3 1317.1C494.7 1327.1 495.1 1340.3 495.9 1351.9C496.8 1363.5 498.3 1375.1 499.4 1386.7C500.6 1398.3 501.5 1410.2 502.9 1421.4C504.3 1432.7 505.8 1446.5 507.5 1453.9C509.3 1461.3 511.4 1466.0 513.3 1466.0C515.3 1466.0 517.6 1459.4 519.1 1453.9C520.7 1448.4 521.4 1442.3 522.6 1433.0C523.8 1423.8 525.1 1409.9 526.1 1398.3C527.1 1386.7 527.7 1373.1 528.4 1363.5C529.1 1353.8 529.4 1347.4 530.0 1340.3C530.6 1333.1 531.9 1320.6 531.9 1320.6C531.9 1320.6 536.1 1325.6 538.8 1328.7C541.5 1331.8 545.0 1336.8 548.1 1339.1C551.2 1341.4 554.7 1343.2 557.4 1342.6C560.1 1342.0 560.9 1338.6 564.3 1335.7C567.8 1332.8 573.2 1329.1 578.3 1325.2C583.3 1321.4 590.2 1316.7 594.5 1312.5C598.7 1308.2 600.7 1303.4 603.8 1299.7C606.9 1296.0 609.6 1293.1 613.0 1290.4C616.5 1287.7 621.2 1285.0 624.6 1283.5C628.1 1281.9 630.8 1282.7 633.9 1281.2C637.0 1279.6 639.7 1276.7 643.2 1274.2C646.7 1271.7 650.9 1268.6 654.8 1266.1C658.6 1263.6 662.1 1261.1 666.4 1259.1C670.6 1257.2 675.7 1255.5 680.3 1254.5C684.9 1253.5 689.6 1253.5 694.2 1253.3C698.8 1253.1 703.5 1252.8 708.1 1253.3C712.8 1253.9 718.2 1256.0 722.0 1256.8C725.9 1257.6 728.6 1259.1 731.3 1258.0C734.0 1256.8 735.9 1252.4 738.3 1249.9C740.6 1247.3 742.9 1244.3 745.2 1242.9C747.5 1241.5 749.9 1241.2 752.2 1241.7C754.5 1242.3 756.8 1243.1 759.1 1246.4C761.4 1249.7 763.8 1256.6 766.1 1261.4C768.4 1266.3 770.7 1271.9 773.0 1275.4C775.4 1278.8 777.5 1279.4 780.0 1282.3C782.5 1285.2 785.4 1290.6 787.8 1292.8C790.3 1294.9 792.5 1295.1 794.8 1295.1C797.1 1295.1 799.4 1294.5 801.7 1292.8C804.1 1291.0 806.0 1288.1 808.7 1284.6C811.4 1281.2 814.5 1276.1 818.0 1271.9C821.4 1267.6 826.1 1262.1 829.6 1259.1C833.0 1256.2 835.0 1255.0 838.8 1254.0C842.7 1253.1 848.1 1253.3 852.8 1253.3C857.4 1253.3 862.0 1253.8 866.7 1254.0C871.3 1254.3 875.9 1254.9 880.6 1255.0C885.2 1255.0 889.9 1255.0 894.5 1254.5C899.1 1254.0 903.8 1253.1 908.4 1252.2C913.0 1251.2 917.7 1249.7 922.3 1248.7C927.0 1247.7 931.6 1247.0 936.2 1246.4C940.9 1245.7 945.5 1245.5 950.1 1244.8C954.8 1244.0 960.2 1243.0 964.1 1241.7C967.9 1240.5 971.2 1239.0 973.3 1237.1C975.5 1235.2 975.5 1231.4 976.8 1230.1C978.2 1228.9 979.7 1229.1 981.4 1229.4C983.2 1229.8 984.7 1231.2 987.2 1232.5C989.8 1233.7 993.8 1236.7 996.5 1237.1C999.2 1237.5 1000.4 1235.3 1003.5 1234.8C1006.6 1234.3 1011.6 1233.1 1015.1 1234.1C1018.6 1235.1 1021.8 1238.0 1024.3 1240.6C1026.9 1243.2 1028.6 1247.9 1030.1 1249.9C1031.7 1251.8 1033.6 1252.2 1033.6 1252.2L1035.9 1240.6C1035.9 1240.6 1045.6 1240.5 1049.9 1240.6C1054.1 1240.7 1057.6 1241.2 1061.4 1241.0C1065.3 1240.9 1069.2 1239.9 1073.0 1239.4C1076.9 1239.0 1080.8 1239.0 1084.6 1238.3C1088.5 1237.5 1092.4 1235.6 1096.2 1234.8C1100.1 1233.9 1105.1 1234.5 1107.8 1233.2C1110.5 1231.8 1110.7 1227.9 1112.5 1226.7C1114.2 1225.4 1115.9 1225.3 1118.3 1225.5C1120.6 1225.7 1123.5 1226.7 1126.4 1227.8C1129.3 1229.0 1132.9 1230.7 1135.7 1232.5C1138.4 1234.2 1140.7 1236.7 1142.6 1238.3C1144.5 1239.8 1147.2 1241.7 1147.2 1241.7C1147.2 1241.7 1148.8 1236.9 1151.9 1235.9C1155.0 1235.0 1161.2 1236.3 1165.8 1235.9C1170.4 1235.6 1176.2 1234.8 1179.7 1233.6C1183.2 1232.5 1184.3 1229.4 1186.7 1229.0C1189.0 1228.5 1190.5 1230.1 1193.6 1230.8C1196.7 1231.6 1201.0 1233.5 1205.2 1233.6C1209.5 1233.8 1215.7 1232.9 1219.1 1231.8C1222.6 1230.7 1222.6 1228.1 1226.1 1227.1C1229.6 1226.2 1236.0 1226.3 1240.0 1226.2C1244.0 1226.1 1245.6 1226.8 1250.0 1226.4C1254.4 1225.9 1260.9 1224.0 1266.3 1223.6C1271.7 1223.3 1277.6 1224.7 1282.6 1224.5C1287.6 1224.2 1291.9 1224.0 1296.2 1222.3C1300.5 1220.6 1304.6 1218.7 1308.4 1214.1C1312.3 1209.6 1316.1 1203.7 1319.3 1195.1C1322.5 1186.5 1325.0 1174.7 1327.4 1162.5C1329.9 1150.3 1332.2 1137.6 1334.2 1121.7C1336.3 1105.9 1338.1 1085.5 1339.7 1067.4C1341.3 1049.3 1342.6 1031.2 1343.8 1013.0C1344.9 994.9 1345.6 976.8 1346.5 958.7C1347.4 940.6 1348.4 922.5 1349.2 904.3C1350.0 886.2 1349.7 897.8 1351.1 850.0C1352.4 802.2 1355.3 692.4 1357.3 617.4C1359.4 542.4 1362.3 450.0 1363.6 400.0C1364.9 350.0 1364.7 343.3 1365.3 317.5C1365.8 291.7 1366.3 269.2 1367.1 245.0C1367.8 220.8 1368.6 196.7 1369.8 172.5C1371.0 148.3 1373.2 113.8 1374.1 100.0C1375.1 86.2 1375.1 93.1 1375.6 90.0C1376.1 86.9 1376.5 81.5 1377.0 81.5C1377.5 81.5 1377.9 86.9 1378.4 90.0C1378.9 93.1 1379.0 86.2 1379.9 100.0C1380.8 113.8 1382.6 148.3 1383.7 172.5C1384.9 196.7 1385.8 220.8 1386.6 245.0C1387.5 269.2 1388.2 291.7 1388.8 317.5C1389.5 343.4 1389.8 350.2 1390.6 400.2C1391.5 450.1 1392.7 542.4 1394.0 617.4C1395.4 692.4 1397.5 802.2 1398.6 850.0C1399.8 897.8 1400.0 886.2 1400.8 904.3C1401.6 922.5 1402.6 940.6 1403.5 958.7C1404.4 976.8 1405.5 994.9 1406.2 1013.0C1407.0 1031.2 1407.4 1049.3 1408.2 1067.4C1408.9 1085.5 1409.8 1105.9 1410.9 1121.7C1411.9 1137.6 1413.1 1151.2 1414.4 1162.5C1415.7 1173.8 1416.4 1182.0 1418.5 1189.7C1420.5 1197.4 1423.0 1204.2 1426.6 1208.7C1430.3 1213.2 1433.4 1214.4 1440.2 1216.8C1447.0 1219.3 1458.3 1222.3 1467.4 1223.6C1476.4 1225.0 1485.5 1224.8 1494.6 1225.0C1503.6 1225.2 1512.5 1225.2 1521.7 1225.0C1531.0 1224.8 1543.2 1224.3 1550.0 1223.6C1556.8 1223.0 1556.4 1221.5 1562.3 1221.2C1568.2 1220.8 1577.8 1221.7 1585.5 1221.6C1593.2 1221.5 1601.0 1221.0 1608.7 1220.7C1616.4 1220.4 1624.2 1220.1 1631.9 1220.0C1639.6 1219.9 1647.3 1220.0 1655.1 1220.0C1662.8 1220.0 1670.5 1220.0 1678.3 1220.0C1686.0 1220.0 1693.7 1219.8 1701.4 1220.0C1709.2 1220.2 1716.9 1221.4 1724.6 1221.2C1732.4 1221.0 1740.1 1218.8 1747.8 1218.8C1755.6 1218.8 1763.3 1221.0 1771.0 1221.2C1778.7 1221.4 1786.5 1220.2 1794.2 1220.0C1801.9 1219.8 1809.8 1220.3 1817.4 1220.0C1825.0 1219.7 1834.7 1218.4 1839.9 1218.1C1845.1 1217.9 1846.0 1218.6 1848.7 1218.4C1851.4 1218.2 1854.0 1217.4 1855.9 1217.0C1857.9 1216.5 1858.8 1215.4 1860.3 1215.5C1861.7 1215.6 1863.2 1216.7 1864.6 1217.7C1866.1 1218.6 1867.1 1220.3 1869.0 1221.3C1870.9 1222.3 1873.8 1223.1 1876.2 1223.5C1878.6 1223.8 1880.8 1223.8 1883.5 1223.5C1886.1 1223.1 1890.2 1222.6 1892.2 1221.3C1894.1 1220.0 1893.6 1217.0 1895.1 1215.5C1896.5 1214.1 1898.5 1213.3 1900.9 1212.6C1903.3 1211.9 1906.7 1211.6 1909.6 1211.2C1912.5 1210.7 1915.4 1210.4 1918.3 1209.7C1921.2 1209.0 1924.1 1207.4 1927.0 1206.8C1929.9 1206.2 1933.2 1206.3 1935.7 1206.1C1938.1 1205.9 1939.3 1205.6 1941.4 1205.8C1943.6 1206.0 1946.3 1206.6 1948.7 1207.5C1951.1 1208.4 1953.5 1210.0 1955.9 1211.2C1958.4 1212.4 1960.8 1213.6 1963.2 1214.8C1965.6 1216.0 1968.0 1217.3 1970.4 1218.4C1972.9 1219.5 1975.3 1220.5 1977.7 1221.3C1980.1 1222.1 1982.8 1222.8 1984.9 1223.2C1987.1 1223.6 1988.8 1223.8 1990.7 1223.5C1992.7 1223.2 1993.9 1221.7 1996.5 1221.3C1999.2 1220.9 2003.3 1221.3 2006.7 1221.3C2010.0 1221.3 2013.4 1221.2 2016.8 1221.3C2020.2 1221.4 2023.8 1221.7 2027.0 1222.0C2030.1 1222.4 2032.5 1222.9 2035.7 1223.5C2038.8 1224.1 2042.7 1225.0 2045.8 1225.7C2048.9 1226.3 2051.6 1226.7 2054.5 1227.1C2057.4 1227.5 2060.3 1227.8 2063.2 1227.8C2066.1 1227.8 2069.2 1227.5 2071.9 1227.1C2074.5 1226.7 2076.7 1226.0 2079.1 1225.7C2081.5 1225.3 2084.0 1225.0 2086.4 1224.9C2088.8 1224.8 2091.0 1225.2 2093.6 1224.9C2096.3 1224.7 2100.9 1223.7 2102.3 1223.5"/>
<path stroke="#ff00ff" d="M279.3 871.7C279.5 876.1 279.4 888.8 280.0 897.8C280.6 906.9 281.5 916.3 282.8 926.1C284.1 935.9 286.1 946.4 287.8 956.5C289.5 966.7 291.4 977.5 293.0 987.0C294.7 996.4 296.1 1004.0 297.6 1013.0C299.2 1022.1 300.7 1031.9 302.4 1041.3C304.1 1050.7 305.9 1061.2 308.0 1069.6C310.2 1077.9 312.8 1085.5 315.2 1091.3C317.7 1097.1 320.3 1100.9 322.8 1104.3C325.4 1107.8 328.6 1110.3 330.4 1112.0C332.2 1113.6 332.2 1114.3 333.7 1114.1C335.1 1113.9 337.1 1111.1 339.1 1110.9C341.1 1110.7 343.5 1111.6 345.7 1113.0C347.8 1114.5 349.7 1116.5 352.2 1119.6C354.6 1122.7 358.0 1127.7 360.3 1131.6C362.6 1135.5 364.3 1139.3 366.1 1143.2C367.8 1147.1 368.6 1151.5 370.7 1154.8C372.9 1158.1 375.9 1160.6 378.8 1162.9C381.7 1165.2 385.4 1167.0 388.1 1168.7C390.8 1170.4 393.1 1173.7 395.1 1173.3C397.0 1172.9 397.8 1168.5 399.7 1166.4C401.6 1164.3 404.3 1161.7 406.7 1160.6C409.0 1159.4 411.3 1158.6 413.6 1159.4C415.9 1160.2 418.3 1162.1 420.6 1165.2C422.9 1168.3 425.6 1173.9 427.5 1178.0C429.5 1182.0 430.8 1186.5 432.2 1189.6C433.5 1192.7 433.7 1194.8 435.7 1196.5C437.6 1198.3 440.1 1198.1 443.8 1200.0C447.4 1201.9 453.0 1204.4 457.7 1208.1C462.3 1211.8 467.0 1216.4 471.6 1222.0C476.2 1227.6 480.9 1235.2 485.5 1241.7C490.1 1248.3 495.2 1255.1 499.4 1261.4C503.7 1267.8 507.5 1274.2 511.0 1280.0C514.5 1285.8 518.2 1292.8 520.3 1296.2C522.4 1299.7 522.4 1300.4 523.8 1300.9C525.1 1301.3 527.1 1298.2 528.4 1299.0C529.8 1299.8 529.8 1301.7 531.9 1305.5C534.0 1309.3 538.1 1316.7 541.2 1321.7C544.3 1326.8 547.7 1332.2 550.4 1335.7C553.1 1339.1 555.3 1340.7 557.4 1342.6C559.5 1344.5 563.2 1347.2 563.2 1347.2L566.7 1338.0C566.7 1338.0 574.4 1338.7 578.3 1338.0C582.1 1337.2 586.0 1335.5 589.9 1333.3C593.7 1331.2 597.6 1328.7 601.4 1325.2C605.3 1321.7 609.2 1317.3 613.0 1312.5C616.9 1307.6 620.8 1301.3 624.6 1296.2C628.5 1291.2 632.4 1286.2 636.2 1282.3C640.1 1278.5 644.0 1275.9 647.8 1273.0C651.7 1270.1 655.6 1267.4 659.4 1264.9C663.3 1262.4 667.1 1259.6 671.0 1258.0C674.9 1256.3 678.7 1255.8 682.6 1255.0C686.5 1254.1 690.9 1253.3 694.2 1252.6C697.5 1252.0 702.3 1251.0 702.3 1251.0L704.6 1246.4L708.1 1252.2C708.1 1252.2 712.8 1259.9 715.1 1263.8C717.4 1267.6 719.7 1271.9 722.0 1275.4C724.3 1278.8 726.3 1283.3 729.0 1284.6C731.7 1286.0 736.1 1285.2 738.3 1283.5C740.4 1281.7 739.8 1275.9 741.7 1274.2C743.7 1272.5 747.3 1273.2 749.9 1273.0C752.4 1272.9 754.1 1272.3 756.8 1273.0C759.5 1273.8 763.4 1276.1 766.1 1277.7C768.8 1279.2 770.7 1280.4 773.0 1282.3C775.4 1284.3 777.5 1286.6 780.0 1289.3C782.5 1291.9 785.0 1296.0 787.8 1298.1C790.7 1300.2 794.0 1301.5 797.1 1302.0C800.2 1302.6 803.3 1302.9 806.4 1301.3C809.5 1299.8 812.6 1296.3 815.7 1292.8C818.7 1289.2 821.8 1284.3 824.9 1280.0C828.0 1275.7 831.1 1270.5 834.2 1267.2C837.3 1264.0 840.4 1261.6 843.5 1260.3C846.6 1258.9 849.7 1259.3 852.8 1259.1C855.8 1258.9 859.9 1259.5 862.0 1259.1C864.2 1258.7 865.5 1256.8 865.5 1256.8L867.8 1240.6L871.3 1240.6C871.3 1240.6 873.6 1248.7 874.8 1252.2C875.9 1255.7 876.9 1259.1 878.3 1261.4C879.6 1263.8 881.2 1264.0 882.9 1266.1C884.6 1268.2 887.0 1272.1 888.7 1274.2C890.4 1276.3 891.6 1278.0 893.3 1278.8C895.1 1279.7 897.4 1279.3 899.1 1279.5C900.9 1279.7 903.8 1280.0 903.8 1280.0C903.8 1280.0 905.0 1267.6 905.6 1259.1C906.2 1250.6 906.2 1235.9 907.2 1229.0C908.3 1222.0 910.3 1220.3 911.9 1217.4C913.4 1214.5 915.2 1213.3 916.5 1211.6C917.9 1209.9 918.8 1207.3 920.0 1207.0C921.2 1206.6 922.1 1207.1 923.5 1209.3C924.8 1211.4 926.6 1215.7 928.1 1219.7C929.7 1223.8 931.2 1229.2 932.8 1233.6C934.3 1238.1 936.0 1243.7 937.4 1246.4C938.7 1249.1 940.9 1249.9 940.9 1249.9C940.9 1249.9 942.0 1239.8 943.2 1235.9C944.3 1232.1 946.1 1229.2 947.8 1226.7C949.6 1224.2 951.7 1222.2 953.6 1220.9C955.6 1219.5 957.7 1218.7 959.4 1218.6C961.2 1218.4 964.1 1219.7 964.1 1219.7C964.1 1219.7 966.8 1212.0 968.7 1209.3C970.6 1206.6 973.5 1204.8 975.7 1203.5C977.8 1202.1 979.5 1201.2 981.4 1201.2C983.4 1201.2 985.3 1201.5 987.2 1203.5C989.2 1205.4 991.3 1208.9 993.0 1212.8C994.8 1216.6 996.1 1222.4 997.7 1226.7C999.2 1230.9 1002.3 1238.3 1002.3 1238.3C1002.3 1238.3 1011.0 1239.0 1015.1 1239.4C1019.1 1239.8 1022.8 1240.4 1026.7 1240.6C1030.5 1240.8 1034.0 1241.2 1038.3 1240.6C1042.5 1240.0 1047.5 1237.3 1052.2 1237.1C1056.8 1236.9 1061.4 1238.5 1066.1 1239.4C1070.7 1240.4 1076.1 1242.3 1080.0 1242.9C1083.9 1243.5 1085.4 1242.9 1089.3 1242.9C1093.1 1242.9 1098.6 1242.9 1103.2 1242.9C1107.8 1242.9 1112.5 1242.5 1117.1 1242.9C1121.7 1243.3 1126.4 1244.1 1131.0 1245.2C1135.7 1246.4 1140.3 1247.9 1144.9 1249.9C1149.6 1251.8 1155.4 1254.9 1158.8 1256.8C1162.3 1258.7 1163.5 1259.5 1165.8 1261.4C1168.1 1263.4 1170.4 1266.5 1172.8 1268.4C1175.1 1270.3 1177.4 1272.1 1179.7 1273.0C1182.0 1274.0 1184.0 1274.8 1186.7 1274.2C1189.4 1273.6 1192.9 1271.2 1195.9 1269.6C1199.0 1267.9 1202.5 1263.8 1205.2 1264.2C1207.9 1264.6 1209.9 1270.0 1212.2 1271.9C1214.5 1273.8 1216.8 1275.4 1219.1 1275.8C1221.4 1276.2 1223.8 1275.8 1226.1 1274.2C1228.4 1272.6 1230.7 1269.0 1233.0 1266.1C1235.4 1263.2 1237.2 1259.6 1240.0 1256.8C1242.8 1254.0 1247.0 1251.6 1250.0 1249.5C1253.0 1247.3 1255.0 1247.2 1258.2 1244.0C1261.3 1240.9 1265.4 1235.9 1269.0 1230.4C1272.6 1225.0 1276.5 1218.2 1279.9 1211.4C1283.3 1204.6 1286.5 1197.8 1289.4 1189.7C1292.3 1181.5 1295.1 1173.8 1297.6 1162.5C1300.0 1151.2 1302.4 1137.6 1304.3 1121.7C1306.3 1105.9 1307.8 1085.5 1309.2 1067.4C1310.7 1049.3 1311.8 1031.2 1313.0 1013.0C1314.3 994.9 1315.5 976.8 1316.6 958.7C1317.6 940.6 1318.4 922.5 1319.3 904.3C1320.2 886.2 1320.2 897.8 1322.0 850.0C1323.8 802.2 1327.7 692.4 1330.2 617.4C1332.7 542.4 1335.6 443.9 1337.0 400.0C1338.3 356.1 1337.6 373.6 1338.1 353.8C1338.6 334.0 1339.1 305.4 1339.9 281.3C1340.6 257.1 1341.9 225.6 1342.6 208.8C1343.3 191.9 1343.7 187.1 1344.2 180.0C1344.7 172.9 1345.1 170.1 1345.6 166.0C1346.1 161.9 1346.7 158.1 1347.2 155.5C1347.8 152.9 1348.3 150.7 1348.9 150.7C1349.5 150.7 1350.0 152.9 1350.6 155.5C1351.1 158.1 1351.7 161.9 1352.2 166.0C1352.7 170.1 1353.3 172.9 1353.8 180.0C1354.3 187.1 1354.5 191.9 1355.3 208.8C1356.0 225.6 1357.5 257.1 1358.4 281.3C1359.3 305.4 1360.1 333.9 1360.7 353.8C1361.3 373.6 1361.2 356.2 1362.0 400.2C1362.8 444.1 1364.2 542.4 1365.5 617.4C1366.8 692.4 1368.4 802.2 1369.6 850.0C1370.7 897.8 1371.5 886.2 1372.3 904.3C1373.1 922.5 1373.8 940.6 1374.5 958.7C1375.1 976.8 1375.7 994.9 1376.4 1013.0C1377.0 1031.2 1377.4 1049.3 1378.3 1067.4C1379.1 1085.5 1380.1 1105.9 1381.2 1121.7C1382.4 1137.6 1383.6 1150.3 1385.1 1162.5C1386.5 1174.7 1387.8 1186.5 1389.9 1195.1C1392.1 1203.7 1394.7 1209.1 1398.1 1214.1C1401.5 1219.1 1405.6 1222.6 1410.3 1225.0C1415.1 1227.4 1417.1 1227.9 1426.6 1228.5C1436.1 1229.1 1446.8 1228.5 1467.4 1228.5C1488.0 1228.5 1534.2 1228.9 1550.0 1228.5C1565.8 1228.2 1556.4 1226.8 1562.3 1226.3C1568.2 1225.7 1577.8 1225.7 1585.5 1225.3C1593.2 1224.9 1601.0 1224.3 1608.7 1223.9C1616.4 1223.6 1624.2 1223.3 1631.9 1223.0C1639.6 1222.7 1647.3 1222.4 1655.1 1222.3C1662.8 1222.2 1670.5 1222.2 1678.3 1222.3C1686.0 1222.4 1693.7 1223.0 1701.4 1223.0C1709.2 1223.0 1716.9 1222.6 1724.6 1222.3C1732.4 1222.0 1742.0 1221.0 1747.8 1221.2C1753.6 1221.4 1755.6 1222.9 1759.4 1223.5C1763.3 1224.1 1765.2 1224.1 1771.0 1224.6C1776.8 1225.2 1786.5 1226.8 1794.2 1227.0C1801.9 1227.1 1809.8 1225.8 1817.4 1225.3C1825.0 1224.8 1834.7 1224.0 1839.9 1223.9C1845.1 1223.9 1845.8 1225.0 1848.7 1224.9C1851.6 1224.9 1854.0 1223.7 1857.4 1223.5C1860.8 1223.2 1865.1 1223.4 1869.0 1223.5C1872.9 1223.6 1877.2 1224.0 1880.6 1224.2C1884.0 1224.4 1886.4 1224.6 1889.3 1224.9C1892.2 1225.2 1895.1 1225.8 1898.0 1226.1C1900.9 1226.3 1903.8 1226.4 1906.7 1226.4C1909.6 1226.3 1913.2 1226.0 1915.4 1225.7C1917.5 1225.3 1918.6 1225.2 1919.7 1224.2C1920.8 1223.2 1920.9 1220.8 1921.9 1219.9C1922.9 1218.9 1924.2 1218.6 1925.5 1218.4C1926.8 1218.2 1928.4 1218.2 1929.9 1218.8C1931.3 1219.4 1932.5 1220.8 1934.2 1222.0C1935.9 1223.3 1938.1 1224.8 1940.0 1226.4C1941.9 1227.9 1943.9 1230.0 1945.8 1231.4C1947.7 1232.9 1949.9 1234.2 1951.6 1235.1C1953.3 1235.9 1954.7 1236.4 1955.9 1236.5C1957.1 1236.6 1958.0 1236.8 1958.8 1235.8C1959.7 1234.8 1959.8 1231.9 1961.0 1230.7C1962.2 1229.5 1964.0 1229.2 1966.1 1228.6C1968.1 1227.9 1971.2 1227.3 1973.3 1227.1C1975.5 1226.9 1977.2 1226.9 1979.1 1227.1C1981.1 1227.3 1982.8 1227.9 1984.9 1228.6C1987.1 1229.2 1989.8 1230.0 1992.2 1230.7C1994.6 1231.4 1997.2 1232.2 1999.4 1232.9C2001.6 1233.6 2003.3 1234.4 2005.2 1234.8C2007.1 1235.1 2008.8 1235.3 2011.0 1235.1C2013.2 1234.8 2015.6 1234.0 2018.3 1233.3C2020.9 1232.7 2024.3 1231.6 2027.0 1231.0C2029.6 1230.5 2031.8 1230.0 2034.2 1230.0C2036.6 1230.0 2039.0 1230.1 2041.4 1230.7C2043.9 1231.3 2046.3 1232.8 2048.7 1233.6C2051.1 1234.5 2053.5 1235.4 2055.9 1235.8C2058.4 1236.2 2060.8 1236.2 2063.2 1235.8C2065.6 1235.4 2068.0 1234.6 2070.4 1233.6C2072.9 1232.7 2075.3 1231.2 2077.7 1230.0C2080.1 1228.8 2082.5 1227.3 2084.9 1226.4C2087.3 1225.4 2090.0 1224.8 2092.2 1224.2C2094.3 1223.6 2096.3 1223.0 2098.0 1222.8C2099.7 1222.5 2101.6 1222.5 2102.3 1222.5"/>
</g>
<g stroke="#000" fill="none" stroke-linecap="butt">
<rect x="257.3" y="30.8" width="1854.4" height="1497.0" stroke-width="6.0"/>
<g stroke-width="6.0">
<line x1="257.3" y1="30.8" x2="242.0" y2="30.8"/>
<line x1="257.3" y1="405.4" x2="227.0" y2="405.4"/>
<line x1="257.3" y1="779.4" x2="242.0" y2="779.4"/>
<line x1="257.3" y1="1153.4" x2="227.0" y2="1153.4"/>
<line x1="257.3" y1="1527.8" x2="242.0" y2="1527.8"/>
<line x1="425.6" y1="1527.8" x2="425.6" y2="1541.8"/>
<line x1="613.0" y1="1527.8" x2="613.0" y2="1556.2"/>
<line x1="800.4" y1="1527.8" x2="800.4" y2="1541.8"/>
<line x1="987.8" y1="1527.8" x2="987.8" y2="1556.2"/>
<line x1="1175.1" y1="1527.8" x2="1175.1" y2="1541.8"/>
<line x1="1362.5" y1="1527.8" x2="1362.5" y2="1556.2"/>
<line x1="1549.9" y1="1527.8" x2="1549.9" y2="1541.8"/>
<line x1="1737.2" y1="1527.8" x2="1737.2" y2="1556.2"/>
<line x1="1924.6" y1="1527.8" x2="1924.6" y2="1541.8"/>
<line x1="2111.7" y1="1527.8" x2="2111.7" y2="1556.2"/>
<line x1="2111.7" y1="1527.8" x2="2125.8" y2="1527.8" stroke-width="6.3"/>
<line x1="2111.7" y1="1429.4" x2="2140.6" y2="1429.4" stroke-width="6.3"/>
<line x1="2111.7" y1="1330.9" x2="2125.8" y2="1330.9" stroke-width="6.3"/>
<line x1="2111.7" y1="1232.4" x2="2140.6" y2="1232.4" stroke-width="6.3"/>
<line x1="2111.7" y1="1133.9" x2="2125.8" y2="1133.9" stroke-width="6.3"/>
<line x1="2111.7" y1="1035.4" x2="2140.6" y2="1035.4" stroke-width="6.3"/>
<line x1="2111.7" y1="936.9" x2="2125.8" y2="936.9" stroke-width="6.3"/>
<line x1="2111.7" y1="838.4" x2="2140.6" y2="838.4" stroke-width="6.3"/>
<line x1="2111.7" y1="739.9" x2="2125.8" y2="739.9" stroke-width="6.3"/>
<line x1="2111.7" y1="641.4" x2="2140.6" y2="641.4" stroke-width="6.3"/>
<line x1="2111.7" y1="542.9" x2="2125.8" y2="542.9" stroke-width="6.3"/>
<line x1="2111.7" y1="444.4" x2="2140.6" y2="444.4" stroke-width="6.3"/>
<line x1="2111.7" y1="345.9" x2="2125.8" y2="345.9" stroke-width="6.3"/>
<line x1="2111.7" y1="247.4" x2="2140.6" y2="247.4" stroke-width="6.3"/>
<line x1="2111.7" y1="148.9" x2="2125.8" y2="148.9" stroke-width="6.3"/>
<line x1="2111.7" y1="50.4" x2="2140.6" y2="50.4" stroke-width="6.3"/>
</g></g>
<g font-size="63.5px">
<text x="207.5" y="424" text-anchor="end">100</text>
<text x="207.5" y="1174.6" text-anchor="end">98</text>
<text x="613.0" y="1625.6" text-anchor="middle">200</text>
<text x="987.8" y="1625.6" text-anchor="middle">400</text>
<text x="1362.5" y="1625.6" text-anchor="middle">600</text>
<text x="1737.2" y="1625.6" text-anchor="middle">800</text>
<text x="2111.7" y="1625.6" text-anchor="middle">1000</text>
<text x="2160.7" y="1449.0">-0.2</text>
<text x="2160.7" y="1252.0">0.0</text>
<text x="2160.7" y="1055.0">0.2</text>
<text x="2160.7" y="858.0">0.4</text>
<text x="2160.7" y="661.0">0.6</text>
<text x="2160.7" y="464.0">0.8</text>
<text x="2160.7" y="267.0">1.0</text>
<text x="2160.7" y="70.0">1.2</text>
</g>
<g text-anchor="middle">
<text x="1184.8" y="1748.8" font-size="79px">Temperature [°C]</text>
<text transform="translate(88.3 778.0) rotate(-90)" font-size="78.5px">Weight [%]</text>
<text transform="translate(2359.6 769) rotate(-90)" font-size="78px">derivative weight [%]</text>
</g>
<rect x="1406.9" y="51.2" width="693.9" height="374.6" fill="#fff" stroke="#000" stroke-width="2.4"/>
<g font-size="49.5px" stroke-width="5.6" stroke-linecap="butt">
<line x1="1411.5" y1="86.0" x2="1527" y2="86.0" stroke="#000000"/>
<text x="1537.7" y="102.8">MNC-2000  (weight)</text>
<line x1="1411.5" y1="147.0" x2="1527" y2="147.0" stroke="#0000ff"/>
<text x="1537.7" y="163.8">MNC-2000  (der. <tspan dx="4.4">weight)</tspan></text>
<line x1="1411.5" y1="208.0" x2="1527" y2="208.0" stroke="#00ff00"/>
<text x="1537.7" y="224.8">MNC-6000  (weight)</text>
<line x1="1411.5" y1="269.0" x2="1527" y2="269.0" stroke="#ff00ff"/>
<text x="1537.7" y="285.8">MNC-6000  (der. <tspan dx="4.4">weight)</tspan></text>
<line x1="1411.5" y1="330.0" x2="1527" y2="330.0" stroke="#ff0000"/>
<text x="1537.7" y="346.8">MNC-10000 (weight)</text>
<line x1="1411.5" y1="391.0" x2="1527" y2="391.0" stroke="#00ffff"/>
<text x="1537.7" y="407.8">MNC-10000 (der. <tspan dx="4.4">weight)</tspan></text>
</g>
</svg></body></html>
